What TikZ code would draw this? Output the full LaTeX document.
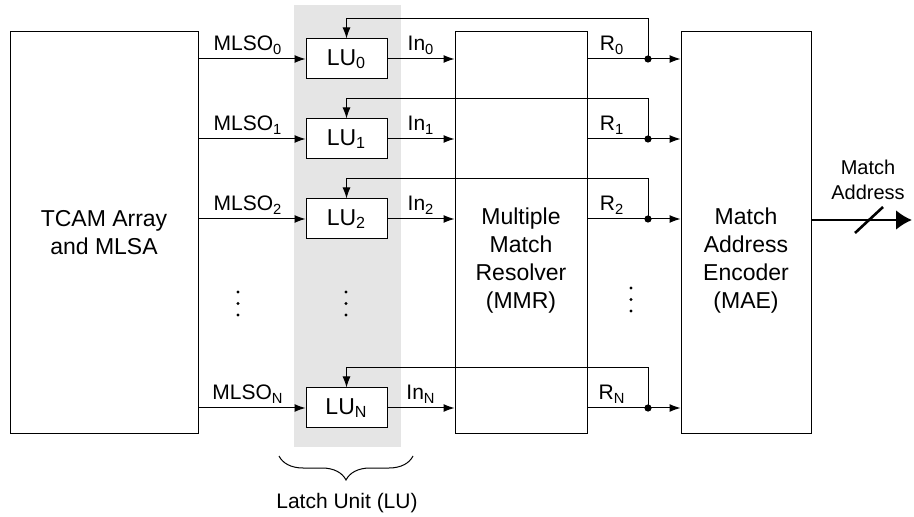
\documentclass[tikz,border=0pt]{standalone}
\usepackage{fontspec}
\setmainfont{Liberation Sans}
\usetikzlibrary{arrows.meta,positioning,decorations.pathreplacing}

\begin{document}
\begin{tikzpicture}[x=0.5pt,y=0.5pt,line width=0.5pt,>=Latex,
  blk/.style={draw,inner sep=0pt,align=center,font=\fontsize{11.5}{14}\selectfont},
  lubox/.style={draw,fill=white,inner sep=0pt,minimum width=40.5pt,minimum height=20pt,font=\fontsize{11.5}{14}\selectfont},
  sig/.style={anchor=base,inner sep=0pt,font=\fontsize{10.5}{12.5}\selectfont},
  arr/.style={-{Latex[length=5.5pt,width=4pt]}},
  jn/.style={circle,fill,inner sep=0pt,minimum size=3.6pt}]
\useasboundingbox (0,0) rectangle (914,-517);
\fill[black!10] (294,-5) rectangle (401,-447);
\node[blk,minimum width=94pt,minimum height=200.5pt] (tcam) at (104,-232.5) {TCAM Array\\and MLSA};
\node[blk,minimum width=66pt,minimum height=200.5pt] (mmr) at (521,-232.5) {};
\node[blk,minimum width=65pt,minimum height=200.5pt] (mae) at (746,-232.5) {};
\node[align=center,font=\fontsize{11.5}{14}\selectfont] (mmrtxt) at ([yshift=-14pt]mmr.center) {Multiple\\Match\\Resolver\\(MMR)};
\node[align=center,font=\fontsize{11.5}{14}\selectfont] (maetxt) at ([yshift=-14pt]mae.center) {Match\\Address\\Encoder\\(MAE)};
\node[lubox] (lu0) at (346.5,-59) {LU\textsubscript{0}};
\node[lubox] (lu1) at (346.5,-139) {LU\textsubscript{1}};
\node[lubox] (lu2) at (346.5,-219) {LU\textsubscript{2}};
\node[lubox] (luN) at (346.5,-408) {LU\textsubscript{N}};
\node[jn] (j0) at (648,-59) {};
\node[jn] (j1) at (648,-139) {};
\node[jn] (j2) at (648,-219) {};
\node[jn] (jN) at (648,-408) {};
\draw[arr] (tcam.east |- lu0.west) -- (lu0.west);
\draw[arr] (tcam.east |- lu1.west) -- (lu1.west);
\draw[arr] (tcam.east |- lu2.west) -- (lu2.west);
\draw[arr] (tcam.east |- luN.west) -- (luN.west);
\draw[arr] (lu0.east) -- (mmr.west |- lu0.east);
\draw[arr] (lu1.east) -- (mmr.west |- lu1.east);
\draw[arr] (lu2.east) -- (mmr.west |- lu2.east);
\draw[arr] (luN.east) -- (mmr.west |- luN.east);
\draw[arr] (mmr.east |- j0) -- (mae.west |- j0);
\draw[arr] (mmr.east |- j1) -- (mae.west |- j1);
\draw[arr] (mmr.east |- j2) -- (mae.west |- j2);
\draw[arr] (mmr.east |- jN) -- (mae.west |- jN);
\draw[arr] (j0.center) -- ++(0,40) -| (lu0.north);
\draw[arr] (j1.center) -- ++(0,40) -| (lu1.north);
\draw[arr] (j2.center) -- ++(0,40) -| (lu2.north);
\draw[arr] (jN.center) -- ++(0,40) -| (luN.north);
\node[sig] (ml0) at (248,-51) {MLSO\textsubscript{0}};
\node[sig] (ml1) at (248,-131) {MLSO\textsubscript{1}};
\node[sig] (ml2) at (248,-211) {MLSO\textsubscript{2}};
\node[sig] (mlN) at (248,-400) {MLSO\textsubscript{N}};
\node[sig] (in0) at (421,-51) {In\textsubscript{0}};
\node[sig] (in1) at (421,-131) {In\textsubscript{1}};
\node[sig] (in2) at (421,-211) {In\textsubscript{2}};
\node[sig] (inN) at (421,-400) {In\textsubscript{N}};
\node[sig] (r0) at (612,-51) {R\textsubscript{0}};
\node[sig] (r1) at (612,-131) {R\textsubscript{1}};
\node[sig] (r2) at (612,-211) {R\textsubscript{2}};
\node[sig] (rN) at (612,-400) {R\textsubscript{N}};
\fill (238,-292) circle (0.8pt) (238,-303.5) circle (0.8pt) (238,-315) circle (0.8pt);
\fill (346,-292) circle (0.8pt) (346,-303.5) circle (0.8pt) (346,-315) circle (0.8pt);
\fill (631,-288) circle (0.8pt) (631,-299.5) circle (0.8pt) (631,-311) circle (0.8pt);
\coordinate (out) at (912,-220);
\draw[line width=1.3pt,-{Latex[length=8pt,width=10pt]}] (mae.east |- out) -- (out);
\draw[line width=1.3pt] (855,-233) -- (883,-207);
\node[align=center,font=\fontsize{10}{12.5}\selectfont] (maddr) at (868,-180) {Match\\Address};
\draw[decorate,decoration={brace,mirror,amplitude=12pt}] (279,-456) -- (413,-456);
\node[sig] (lulbl) at (347,-508) {Latch Unit (LU)};
\end{tikzpicture}
\end{document}
